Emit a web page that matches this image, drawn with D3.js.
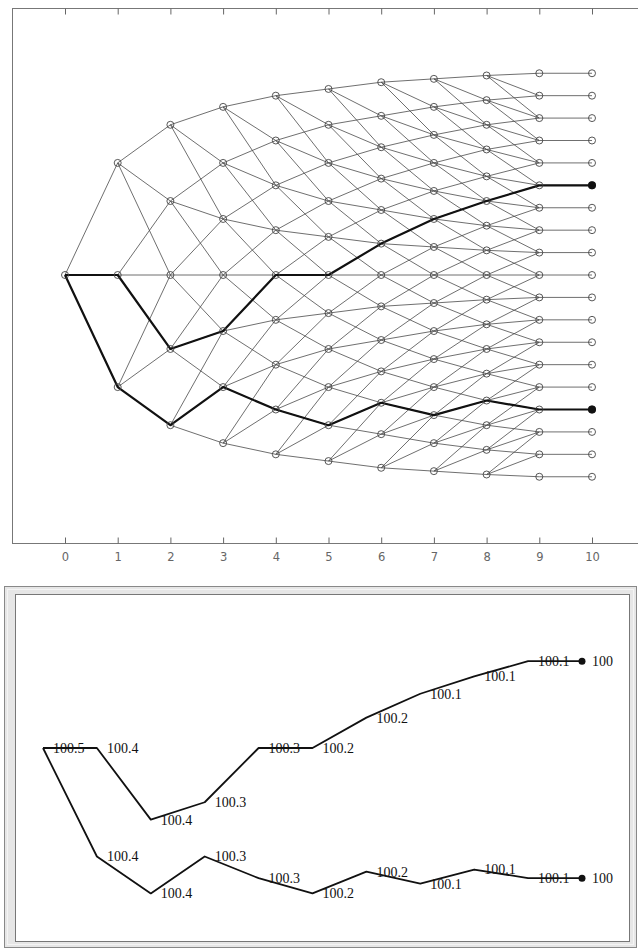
<!DOCTYPE html>
<html>
<head>
<meta charset="utf-8">
<script src="https://cdn.jsdelivr.net/npm/d3@7"></script>
<style>
  body { margin: 0; background: #fff; }
  svg { display: block; }
</style>
</head>
<body>
<svg id="chart" width="638" height="948"></svg>
<script>
// time steps of the tree
var steps = [0, 1, 2, 3, 4, 5, 6, 7, 8, 9, 10]

// node levels at each step, top to bottom
var levels0 = [0]
var levels1 = [0.5, 0, -0.5]
var levels2 = [0.67, 0.33, 0, -0.33, -0.67]
var levels3 = [0.75, 0.5, 0.25, 0, -0.25, -0.5, -0.75]
var levels4 = [0.8, 0.6, 0.4, 0.2, 0, -0.2, -0.4, -0.6, -0.8]
var levels5 = [0.83, 0.67, 0.5, 0.33, 0.17, 0, -0.17, -0.33, -0.5, -0.67, -0.83]
var levels6 = [0.86, 0.71, 0.57, 0.43, 0.29, 0.14, 0, -0.14, -0.29, -0.43, -0.57, -0.71, -0.86]
var levels7 = [0.875, 0.75, 0.625, 0.5, 0.375, 0.25, 0.125, 0, -0.125, -0.25, -0.375, -0.5, -0.625, -0.75, -0.875]
var levels8 = [0.89, 0.78, 0.67, 0.56, 0.44, 0.33, 0.22, 0.11, 0, -0.11, -0.22, -0.33, -0.44, -0.56, -0.67, -0.78, -0.89]
var levels9 = [0.9, 0.8, 0.7, 0.6, 0.5, 0.4, 0.3, 0.2, 0.1, 0, -0.1, -0.2, -0.3, -0.4, -0.5, -0.6, -0.7, -0.8, -0.9]
var levels10 = [0.9, 0.8, 0.7, 0.6, 0.5, 0.4, 0.3, 0.2, 0.1, 0, -0.1, -0.2, -0.3, -0.4, -0.5, -0.6, -0.7, -0.8, -0.9]
var levels = [levels0, levels1, levels2, levels3, levels4, levels5, levels6, levels7, levels8, levels9, levels10]

// the two highlighted paths (node index per step, from the top)
var upperPath = [0, 1, 3, 4, 4, 5, 5, 5, 5, 5, 5]
var lowerPath = [0, 2, 4, 5, 7, 9, 10, 12, 13, 15, 15]

// values printed along the paths in the lower panel
var upperValues = [100.5, 100.4, 100.4, 100.3, 100.3, 100.2, 100.2, 100.1, 100.1, 100.1, 100]
var lowerValues = [100.5, 100.4, 100.4, 100.3, 100.3, 100.2, 100.2, 100.1, 100.1, 100.1, 100]

var svg = d3.select('#chart')

// ---------- top panel: the lattice ----------
var frame = { left: 12, right: 638, top: 8, bottom: 543 }

var x = d3.scaleLinear().domain([0, 10]).range([65, 592])
var y = d3.scaleLinear().domain([-1.2, 1.2]).range([544, 6])

var lattice = svg.append('g').attr('id', 'lattice')

// frame lines
lattice.append('line')
       .attr('x1', frame.left).attr('x2', frame.right)
       .attr('y1', frame.top + 0.5).attr('y2', frame.top + 0.5)
       .style('stroke', '#777').style('stroke-width', 1)
lattice.append('line')
       .attr('x1', frame.left).attr('x2', frame.right)
       .attr('y1', frame.bottom + 0.5).attr('y2', frame.bottom + 0.5)
       .style('stroke', '#777').style('stroke-width', 1)
lattice.append('line')
       .attr('x1', frame.left + 0.5).attr('x2', frame.left + 0.5)
       .attr('y1', frame.top).attr('y2', frame.bottom)
       .style('stroke', '#777').style('stroke-width', 1)

var xAxis = lattice.append('g')
       .attr('transform', 'translate(0,' + (frame.bottom + 0.5) + ')')
       .call(d3.axisBottom(x).tickValues(steps).tickSizeInner(-6).tickSizeOuter(0).tickPadding(9))
xAxis.select('.domain').remove()
xAxis.selectAll('line').style('stroke', '#666')
xAxis.selectAll('text')
     .attr('font-family', 'DejaVu Sans, sans-serif')
     .attr('font-size', 11.5)
     .style('fill', '#666')

var xAxisTop = lattice.append('g')
       .attr('transform', 'translate(0,' + (frame.top + 0.5) + ')')
       .call(d3.axisTop(x).tickValues(steps).tickSizeInner(-6).tickSizeOuter(0).tickFormat(''))
xAxisTop.select('.domain').remove()
xAxisTop.selectAll('line').style('stroke', '#666')

// edges: each node branches to three nodes of the next step, last step is flat
var edges = []
levels.forEach((lv, t) => {
  if (t === levels.length - 1) return
  lv.forEach((v, i) => {
    var next = t < levels.length - 2 ? [i, i + 1, i + 2] : [i]
    next.forEach(k => {
      edges.push({ t: t, v0: v, v1: levels[t + 1][k] })
    })
  })
})

lattice.append('g').selectAll('line')
       .data(edges)
       .join('line')
       .attr('x1', d => x(d.t))
       .attr('y1', d => y(d.v0))
       .attr('x2', d => x(d.t + 1))
       .attr('y2', d => y(d.v1))
       .style('stroke', '#4a4a4a')
       .style('stroke-width', 0.8)

var pathLine = d3.line().x((d, t) => x(t)).y(d => y(d))

var upperLevels = upperPath.map((k, t) => levels[t][k])
var lowerLevels = lowerPath.map((k, t) => levels[t][k])

;[upperLevels, lowerLevels].forEach(p => {
  lattice.append('path')
         .attr('d', pathLine(p))
         .style('fill', 'none')
         .style('stroke', '#111')
         .style('stroke-width', 2.2)
         .style('stroke-linejoin', 'round')
})

var nodes = []
levels.forEach((lv, t) => lv.forEach(v => nodes.push({ t: t, v: v })))

lattice.append('g').selectAll('circle')
       .data(nodes)
       .join('circle')
       .attr('cx', d => x(d.t))
       .attr('cy', d => y(d.v))
       .attr('r', 3.5)
       .style('fill', 'none')
       .style('stroke', '#444')
       .style('stroke-width', 0.9)

;[upperLevels, lowerLevels].forEach(p => {
  lattice.append('circle')
         .attr('cx', x(10))
         .attr('cy', y(p[10]))
         .attr('r', 4)
         .style('fill', '#111')
})

// ---------- bottom panel: the two paths with values ----------
var panel = svg.append('g').attr('id', 'paths')

panel.append('rect')
     .attr('x', 4.5).attr('y', 586.5)
     .attr('width', 632).attr('height', 361)
     .style('fill', '#e6e6e6')
     .style('stroke', '#888')
panel.append('rect')
     .attr('x', 7.5).attr('y', 589.5)
     .attr('width', 626).attr('height', 355)
     .style('fill', 'none')
     .style('stroke', '#f4f4f4')
panel.append('rect')
     .attr('x', 15.5).attr('y', 594.5)
     .attr('width', 614).attr('height', 347)
     .style('fill', '#fff')
     .style('stroke', '#777')

var xb = d3.scaleLinear().domain([0, 10]).range([43, 582])
var yb = d3.scaleLinear().domain([-1, 1]).range([965, 531])

var lineB = d3.line().x((d, t) => xb(t)).y(d => yb(d))

;[upperLevels, lowerLevels].forEach(p => {
  panel.append('path')
       .attr('d', lineB(p))
       .style('fill', 'none')
       .style('stroke', '#111')
       .style('stroke-width', 1.8)
       .style('stroke-linejoin', 'round')
})

var labelsFor = function (lv, vals, skipFirst) {
  panel.append('g').selectAll('text')
       .data(vals.map((v, t) => ({ t: t, v: v, lv: lv[t] })).filter(d => !(skipFirst && d.t === 0)))
       .join('text')
       .attr('x', d => xb(d.t) + 10)
       .attr('y', d => yb(d.lv))
       .attr('dy', '0.35em')
       .attr('font-family', 'Liberation Serif, Times New Roman, serif')
       .attr('font-size', 14)
       .style('fill', '#111')
       .text(d => String(d.v))
}
labelsFor(upperLevels, upperValues, false)
labelsFor(lowerLevels, lowerValues, true)

;[upperLevels, lowerLevels].forEach(p => {
  panel.append('circle')
       .attr('cx', xb(10))
       .attr('cy', yb(p[10]))
       .attr('r', 3.5)
       .style('fill', '#111')
})
</script>
</body>
</html>
